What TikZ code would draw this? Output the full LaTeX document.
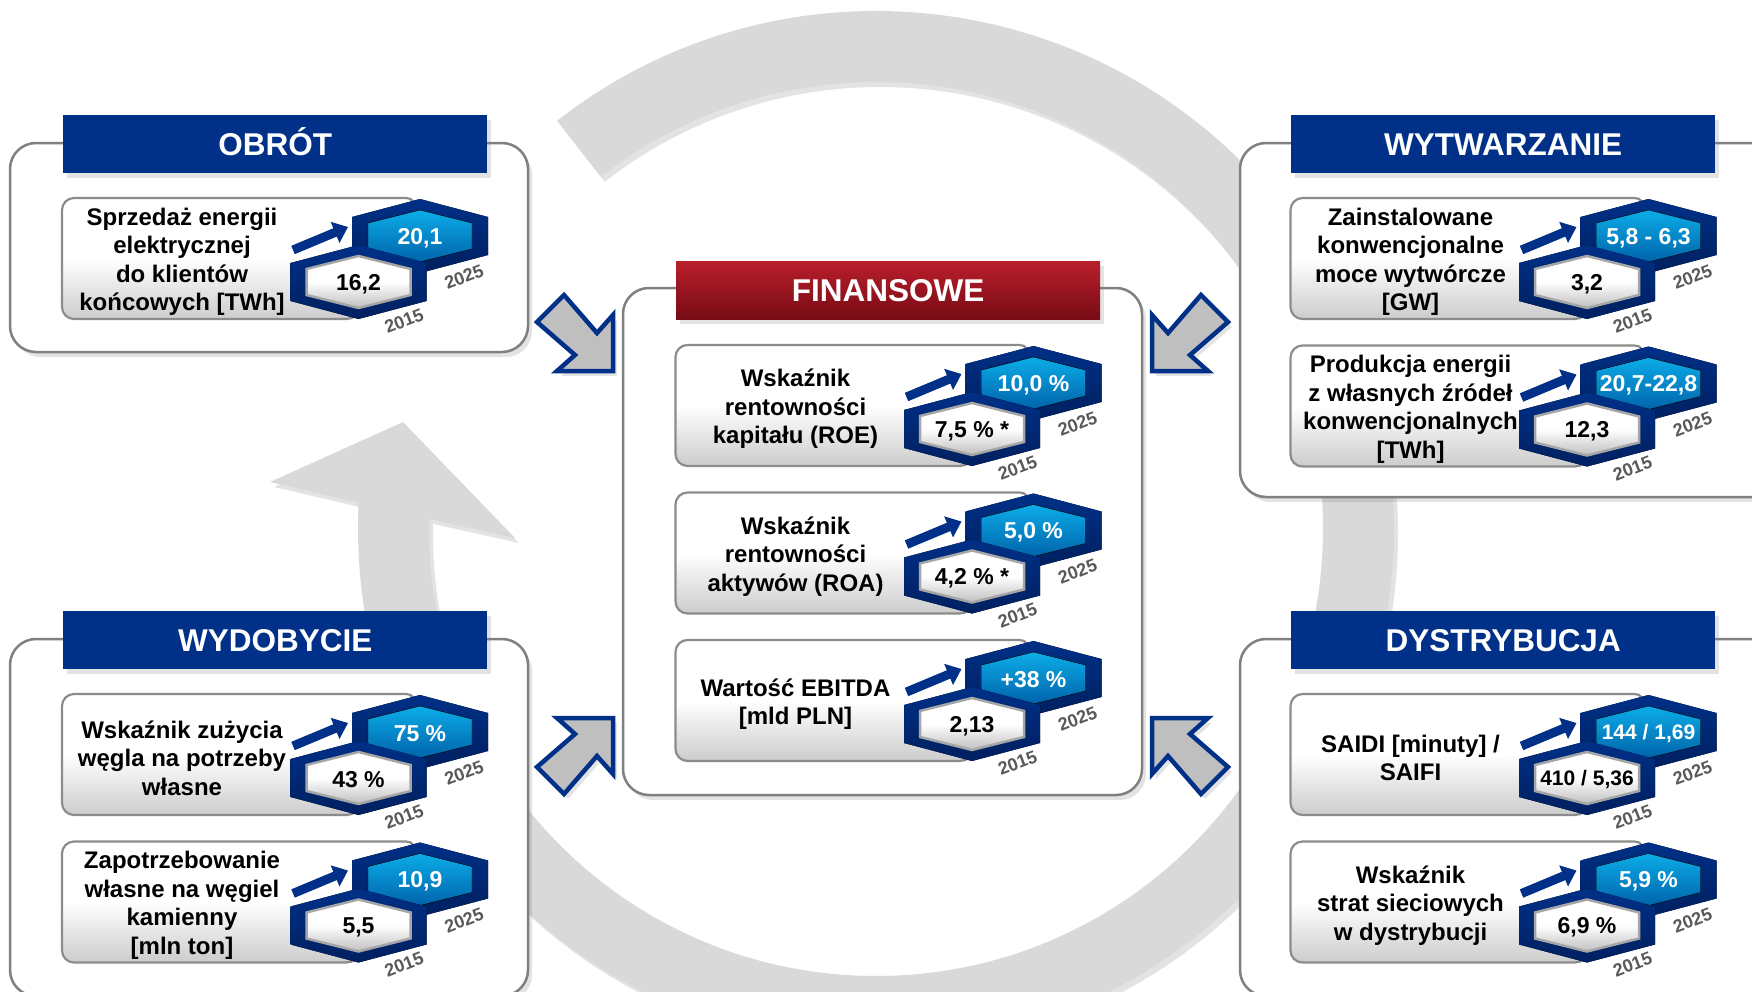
\documentclass[tikz,border=0pt]{standalone}
\usepackage{fontspec}
\setmainfont{Liberation Sans}
\usetikzlibrary{arrows.meta,shadows}

\definecolor{navy}{RGB}{0,48,135}
\definecolor{navyd}{RGB}{0,32,96}
\definecolor{cyantop}{RGB}{12,172,232}
\definecolor{cyanbot}{RGB}{0,100,170}
\definecolor{ringgrey}{RGB}{217,217,217}
\definecolor{redtop}{RGB}{186,30,44}
\definecolor{redbot}{RGB}{118,12,20}
\definecolor{yeargrey}{RGB}{89,89,89}

\tikzset{
  softshadow/.style={drop shadow={shadow xshift=4pt, shadow yshift=-5pt, opacity=.22}},
  frame/.style={draw=black!50, line width=2.5pt, fill=white, rounded corners=26pt, softshadow},
  head/.style={anchor=north west, inner sep=0pt, minimum width=424pt, minimum height=58pt,
    text height=23pt, text depth=0pt, text=white, font=\bfseries\fontsize{31.5}{36}\selectfont, softshadow},
  headblue/.style={head, fill=navy},
  headred/.style={head, top color=redtop, bottom color=redbot},
  card/.style={draw=black!45, line width=2.2pt, rounded corners=12pt,
    top color=white, bottom color=black!20, middle color=white},
  lbl/.style={font=\bfseries\fontsize{24}{28.5}\selectfont, align=center, inner sep=0pt},
  hexout/.style={top color=navy, bottom color=navyd},
  hexcyan/.style={top color=cyantop, bottom color=cyanbot},
  hexwhite/.style={draw=black!35, line width=2.5pt, top color=white, bottom color=black!25, middle color=white},
  val/.style={font=\bfseries\fontsize{23}{23}\selectfont, inner sep=0pt},
  year/.style={font=\bfseries\fontsize{18}{18}\selectfont, text=yeargrey, rotate=21, inner sep=0pt},
  up/.style={line width=9pt, draw=navy, -{Triangle[length=14pt,width=22pt]}},
  blockarrow/.style={fill=black!25, draw=navy, line width=4.5pt, line join=miter, softshadow}
}

\newcommand{\smallval}{\fontsize{21}{21}\selectfont}

% one hexagon: centre, inner style, node name, value, text colour
\newcommand{\hexcell}[5]{%
  \begin{scope}[shift={(#1)}]
    \fill[hexout] (0,-37) -- (68,-19) -- (68,19) -- (0,37) -- (-68,19) -- (-68,-19) -- cycle;
    \filldraw[#2] (0,-26) -- (52,-13) -- (52,13) -- (0,26) -- (-52,13) -- (-52,-13) -- cycle;
    \node[val, text=#5] (#3) at (0,2) {#4};
  \end{scope}}

% one card: name, top left corner, label, 2015, 2025
\newcommand{\kpi}[5]{%
  \begin{scope}[shift={(#2)}]
    \draw[card] (0,0) -- (356,0) -- (296,121) -- (0,121) -- cycle;
    \node[lbl] (#1) at (120,64) {#3};
    \draw[up] (231,52) -- (286,29);
    \hexcell{358,38}{hexcyan}{#1-b}{#5}{white}
    \hexcell{296.5,84}{hexwhite}{#1-a}{#4}{black}
    \node[year] (#1-yb) at (402,79) {2025};
    \node[year] (#1-ya) at (342,123) {2015};
  \end{scope}}

\begin{document}
\begin{tikzpicture}[x=1pt, y=-1pt]
  \useasboundingbox (0,0) rectangle (1752,991);

  % Ring with arrow
  \coordinate (c) at (876,529);
  \fill[ringgrey, softshadow] ([shift={(-128:518)}]c) arc[start angle=-128, end angle=182.9, radius=518]
    -- (270,482) -- (403,422) -- (515,538) -- ([shift={(181.3:447)}]c)
    arc[start angle=181.3, end angle=-128, radius=447] -- cycle;

  % Frames
  \draw[frame] (10,143) rectangle (528,352);
  \draw[frame] (10,639) rectangle (528,996);
  \draw[frame] (623,288) rectangle (1142,795);
  \draw[frame] (1240,143) rectangle (1800,497);
  \draw[frame] (1240,639) rectangle (1800,996);

  % Headers
  \node[headblue] (obrot) at (63,115) {OBRÓT};
  \node[headblue] (wydob) at (63,611) {WYDOBYCIE};
  \node[headred] (finans) at (676,261) {FINANSOWE};
  \node[headblue] (wytw) at (1291,115) {WYTWARZANIE};
  \node[headblue] (dystr) at (1291,611) {DYSTRYBUCJA};

  % Cards
  \kpi{obr}{62,198}{Sprzedaż energii\\elektrycznej\\do klientów\\końcowych [TWh]}{16,2}{20,1}
  \kpi{zuz}{62,694}{Wskaźnik zużycia\\węgla na potrzeby\\własne}{43 \%}{75 \%}
  \kpi{wegiel}{62,841.5}{Zapotrzebowanie\\własne na węgiel\\kamienny\\{}[mln ton]}{5,5}{10,9}
  \kpi{roe}{675.5,345}{Wskaźnik\\rentowności\\kapitału (ROE)}{7,5 \% *}{10,0 \%}
  \kpi{roa}{675.5,492.5}{Wskaźnik\\rentowności\\aktywów (ROA)}{4,2 \% *}{5,0 \%}
  \kpi{ebitda}{675.5,640}{Wartość EBITDA\\{}[mld PLN]}{2,13}{+38 \%}
  \kpi{moc}{1290.5,198}{Zainstalowane\\konwencjonalne\\moce wytwórcze\\{}[GW]}{3,2}{5,8 - 6,3}
  \kpi{prod}{1290.5,345.5}{Produkcja energii\\z własnych źródeł\\konwencjonalnych\\{}[TWh]}{12,3}{20,7-22,8}
  \kpi{saidi}{1290.5,694}{SAIDI [minuty] /\\SAIFI}{\smallval 410 / 5,36}{\smallval 144 / 1,69}
  \kpi{straty}{1290.5,841.5}{Wskaźnik\\strat sieciowych\\w dystrybucji}{6,9 \%}{5,9 \%}

  % Arrows into FINANSOWE
  \foreach \sx/\sy/\tx/\ty in {1/1/613/371, -1/1/1152/371, 1/-1/613/718, -1/-1/1152/718}
    \filldraw[blockarrow, shift={(\tx,\ty)}, xscale=\sx, yscale=\sy]
      (-49,-76) -- (-16,-38) -- (0,-56) -- (0,0) -- (-56,0) -- (-38,-16) -- (-76,-49) -- cycle;
\end{tikzpicture}
\end{document}
